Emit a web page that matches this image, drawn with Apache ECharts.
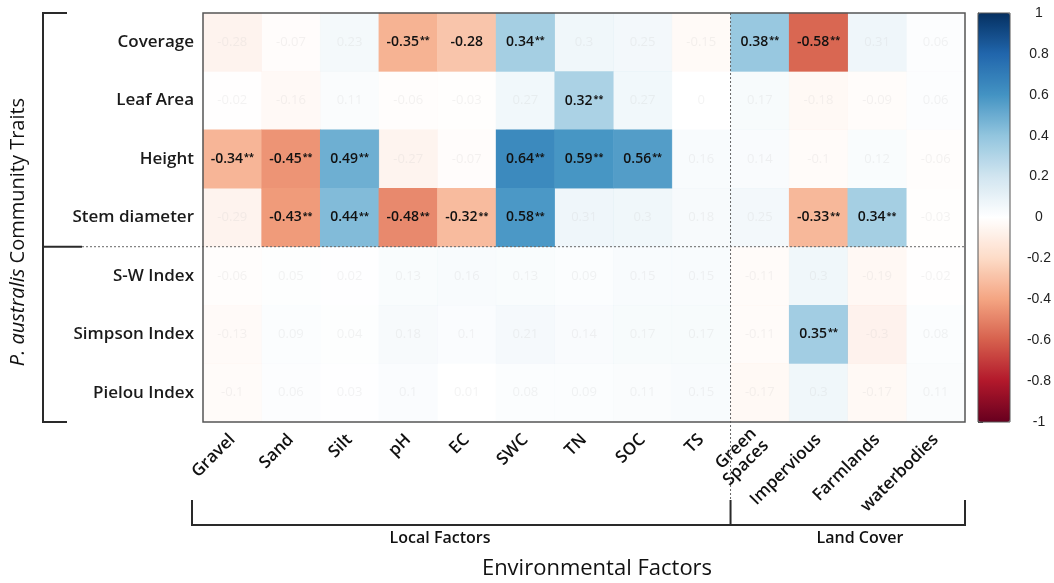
<!DOCTYPE html>
<html><head><meta charset="utf-8">
<script src="https://cdn.jsdelivr.net/npm/echarts@6/dist/echarts.min.js"></script>
<style>html,body{margin:0;padding:0;background:#fff}#c{width:1054px;height:583px}</style>
</head><body><div id="c"></div>
<script>
// ---- data ----
const factors = ['Gravel','Sand','Silt','pH','EC','SWC','TN','SOC','TS','Green\nSpaces','Impervious','Farmlands','waterbodies'];
const traits = ['Coverage','Leaf Area','Height','Stem diameter','S-W Index','Simpson Index','Pielou Index'];

const coverage     = [-0.28,-0.07, 0.23,-0.35,-0.28, 0.34, 0.3, 0.25,-0.15, 0.38,-0.58, 0.31, 0.06];
const leafArea     = [-0.02,-0.16, 0.11,-0.06,-0.03, 0.27, 0.32,0.27, 0,    0.17,-0.18,-0.09, 0.06];
const height       = [-0.34,-0.45, 0.49,-0.27,-0.07, 0.64, 0.59,0.56, 0.16, 0.14,-0.1,  0.12,-0.06];
const stemDiameter = [-0.29,-0.43, 0.44,-0.48,-0.32, 0.58, 0.31,0.3,  0.18, 0.25,-0.33, 0.34,-0.03];
const swIndex      = [-0.06, 0.05, 0.02, 0.13, 0.16, 0.13, 0.09,0.15, 0.15,-0.11, 0.3, -0.19,-0.02];
const simpsonIndex = [-0.13, 0.09, 0.04, 0.18, 0.1,  0.21, 0.14,0.17, 0.17,-0.11, 0.35,-0.3,  0.08];
const pielouIndex  = [-0.1,  0.06, 0.03, 0.1,  0.01, 0.08, 0.09,0.11, 0.15,-0.17, 0.3, -0.17, 0.11];

// significance: 2 = "**", 1 = highlighted without stars, 0 = not significant
const sigCoverage     = [0,0,0,2,1,2,0,0,0,2,2,0,0];
const sigLeafArea     = [0,0,0,0,0,0,2,0,0,0,0,0,0];
const sigHeight       = [2,2,2,0,0,2,2,2,0,0,0,0,0];
const sigStemDiameter = [0,2,2,2,2,2,0,0,0,0,2,2,0];
const sigSwIndex      = [0,0,0,0,0,0,0,0,0,0,0,0,0];
const sigSimpsonIndex = [0,0,0,0,0,0,0,0,0,0,2,0,0];
const sigPielouIndex  = [0,0,0,0,0,0,0,0,0,0,0,0,0];

const colorMin = -1, colorMax = 1, colorStep = 0.2;
const groupNames = ['Local Factors','Land Cover'];
const groupSplit = 9; // Local factors count
const traitSplit = 4; // community traits rows above the divider

// ---- build ----
const values = [coverage, leafArea, height, stemDiameter, swIndex, simpsonIndex, pielouIndex];
const sigs = [sigCoverage, sigLeafArea, sigHeight, sigStemDiameter, sigSwIndex, sigSimpsonIndex, sigPielouIndex];
const data = [];
values.forEach((row, i) => row.forEach((v, j) => {
  const s = sigs[i][j];
  const txt = String(v);
  data.push({
    value: [j, i, v],
    itemStyle: { opacity: s ? 1 : 0.2 },
    label: { formatter: s === 2 ? '{b|' + txt + '}{s|**}' : (s === 1 ? '{b|' + txt + '}' : '{n|' + txt + '}') }
  });
}));

const G = { left: 203, top: 13, width: 762, height: 409 };
const cellW = G.width / factors.length, rowH = G.height / traits.length;
const divX = G.left + groupSplit * cellW;
const divY = G.top + traitSplit * rowH;
const right = G.left + G.width, bottom = G.top + G.height;
const FF = '"Open Sans", sans-serif';
const dark = '#2a2a2a';
const brY = 525, brTop = 500, brLeft = 192, lbX = 43;
const W = 600;

const chart = echarts.init(document.getElementById('c'), null, { renderer: 'canvas' });
chart.setOption({
  animation: false,
  backgroundColor: '#fff',
  grid: [
    { left: G.left, top: G.top, width: G.width, height: G.height, containLabel: false },
    { left: 978, top: G.top, width: 32, height: G.height }
  ],
  xAxis: [
    { type: 'category', data: factors, gridIndex: 0,
      axisLine: { show: false }, axisTick: { show: false }, splitLine: { show: false },
      axisLabel: { rotate: 45, margin: 15, fontSize: 17, fontWeight: W, color: '#111', fontFamily: FF, lineHeight: 17, interval: 0 } },
    { type: 'value', gridIndex: 1, show: false, min: 0, max: 1 }
  ],
  yAxis: [
    { type: 'category', data: traits, inverse: true, gridIndex: 0,
      axisLine: { show: false }, axisTick: { show: false }, splitLine: { show: false },
      axisLabel: { margin: 9, fontSize: 17, fontWeight: W, color: '#1a1a1a', fontFamily: FF } },
    { type: 'value', gridIndex: 1, position: 'right', min: colorMin, max: colorMax, interval: colorStep,
      axisLine: { show: true, lineStyle: { color: '#444', width: 1 } },
      axisTick: { show: true, length: 5, lineStyle: { color: '#444' } },
      splitLine: { show: false },
      axisLabel: { margin: 38, align: 'center', fontSize: 14, color: '#222', fontFamily: '"Liberation Sans", Arial, sans-serif' } }
  ],
  visualMap: {
    type: 'continuous', min: colorMin, max: colorMax, seriesIndex: 0, calculable: false, hoverLink: false,
    orient: 'vertical', left: 978, top: G.top, itemWidth: 32, itemHeight: G.height, padding: 0,
    inRange: { color: ['#67001f','#b2182b','#d6604d','#f4a582','#fddbc7','#ffffff','#d1e5f0','#92c5de','#4393c3','#2166ac','#053061'] }
  },
  series: [{
    type: 'heatmap', xAxisIndex: 0, yAxisIndex: 0, data: data,
    itemStyle: { borderWidth: 0 },
    label: { show: true, fontFamily: FF,
      rich: {
        b: { fontSize: 14, fontWeight: 600, color: '#111', fontFamily: FF },
        s: { fontSize: 9, fontWeight: 'bold', color: '#111', fontFamily: FF, padding: [0, 0, 3, 1] },
        n: { fontSize: 13, color: '#c4c4c4', fontFamily: FF }
      } },
    emphasis: { disabled: true }
  }],
  graphic: [
    // plot frame
    { type: 'rect', z: 100, silent: true, shape: { x: G.left, y: G.top, width: G.width, height: G.height },
      style: { fill: null, stroke: '#555', lineWidth: 1.5 } },
    // colorbar frame
    { type: 'rect', z: 100, silent: true, shape: { x: 978, y: G.top, width: 32, height: G.height },
      style: { fill: null, stroke: '#555', lineWidth: 1 } },
    // dotted dividers
    { type: 'line', z: 99, silent: true, shape: { x1: 82, y1: divY, x2: right, y2: divY },
      style: { stroke: '#666', lineWidth: 1, lineDash: [2, 2] } },
    { type: 'line', z: 99, silent: true, shape: { x1: divX, y1: G.top, x2: divX, y2: brTop },
      style: { stroke: '#666', lineWidth: 1, lineDash: [2, 2] } },
    // left bracket
    { type: 'polyline', z: 100, silent: true, shape: { points: [[lbX + 24, G.top], [lbX, G.top], [lbX, bottom], [lbX + 24, bottom]] },
      style: { fill: null, stroke: dark, lineWidth: 2 } },
    { type: 'line', z: 100, silent: true, shape: { x1: lbX, y1: divY, x2: 82, y2: divY },
      style: { stroke: dark, lineWidth: 2 } },
    // bottom bracket
    { type: 'polyline', z: 100, silent: true, shape: { points: [[brLeft, brTop], [brLeft, brY], [right, brY], [right, brTop]] },
      style: { fill: null, stroke: dark, lineWidth: 2 } },
    { type: 'line', z: 100, silent: true, shape: { x1: divX, y1: brTop, x2: divX, y2: brY },
      style: { stroke: dark, lineWidth: 2 } },
    // group labels
    { type: 'text', z: 100, silent: true, x: 440, y: 538,
      style: { text: groupNames[0], fontSize: 16, fontWeight: W, fontFamily: FF, fill: '#111', align: 'center', verticalAlign: 'middle' } },
    { type: 'text', z: 100, silent: true, x: 860, y: 538,
      style: { text: groupNames[1], fontSize: 16, fontWeight: W, fontFamily: FF, fill: '#111', align: 'center', verticalAlign: 'middle' } },
    { type: 'text', z: 100, silent: true, x: 597, y: 569,
      style: { text: 'Environmental Factors', fontSize: 22, fontFamily: FF, fill: '#111', align: 'center', verticalAlign: 'middle' } },
    // y title
    { type: 'text', z: 100, silent: true, x: 18, y: 232, rotation: Math.PI / 2,
      style: { text: '{i|P. australis} Community Traits', fontSize: 20, fontFamily: FF, fill: '#111',
        align: 'center', verticalAlign: 'middle',
        rich: { i: { fontStyle: 'italic', fontSize: 20, fontFamily: FF, fill: '#111' } } } }
  ]
});
</script>
</body></html>
